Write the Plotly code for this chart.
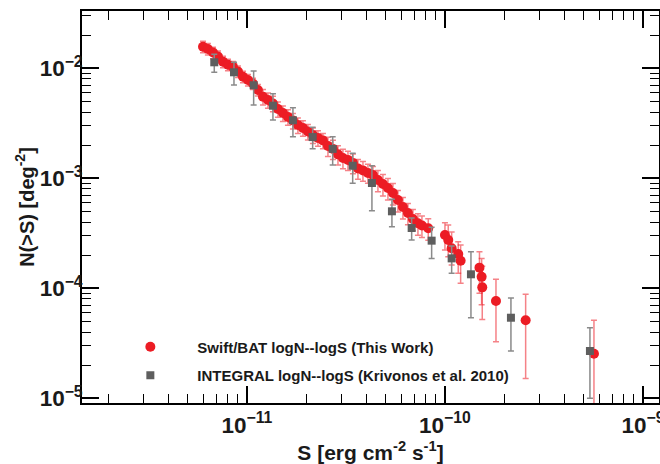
import plotly.graph_objects as go

# Swift/BAT logN-logS
bat_S = [6.00e-12, 6.35e-12, 6.74e-12, 7.14e-12, 7.57e-12, 8.02e-12, 8.50e-12, 9.01e-12, 9.55e-12,
         1.012e-11, 1.072e-11, 1.136e-11, 1.205e-11, 1.277e-11, 1.353e-11, 1.434e-11, 1.520e-11,
         1.611e-11, 1.707e-11, 1.809e-11, 1.918e-11, 2.032e-11, 2.154e-11, 2.284e-11, 2.420e-11,
         2.565e-11, 2.719e-11, 2.882e-11, 3.054e-11, 3.237e-11, 3.431e-11, 3.636e-11, 3.854e-11,
         4.084e-11, 4.329e-11, 4.587e-11, 4.862e-11, 5.153e-11, 5.462e-11, 5.788e-11, 6.135e-11,
         6.502e-11, 6.892e-11, 7.304e-11, 7.652e-11, 8.236e-11, 1.000e-10, 1.039e-10, 1.081e-10,
         1.167e-10, 1.200e-10, 1.494e-10, 1.532e-10, 1.543e-10, 1.810e-10, 2.556e-10, 5.656e-10]
bat_N = [1.57e-2, 1.50e-2, 1.39e-2, 1.28e-2, 1.15e-2, 1.08e-2, 1.03e-2, 9.35e-3, 8.39e-3,
         7.83e-3, 7.27e-3, 6.35e-3, 5.52e-3, 5.15e-3, 4.79e-3, 4.27e-3, 3.92e-3,
         3.61e-3, 3.35e-3, 3.05e-3, 2.87e-3, 2.66e-3, 2.47e-3, 2.33e-3, 2.21e-3,
         1.97e-3, 1.85e-3, 1.65e-3, 1.53e-3, 1.47e-3, 1.38e-3, 1.23e-3, 1.18e-3,
         1.12e-3, 1.07e-3, 9.65e-4, 8.87e-4, 8.16e-4, 7.35e-4, 6.35e-4, 5.48e-4,
         4.84e-4, 4.27e-4, 3.90e-4, 3.72e-4, 3.51e-4, 3.05e-4, 2.75e-4, 2.31e-4,
         2.05e-4, 1.78e-4, 1.54e-4, 1.27e-4, 1.02e-4, 7.66e-5, 5.12e-5, 2.54e-5]
bat_err_plus = [1.88e-3, 1.80e-3, 1.67e-3, 1.54e-3, 1.38e-3, 1.30e-3, 1.24e-3, 1.12e-3, 1.01e-3,
                9.4e-4, 8.7e-4, 7.6e-4, 8.8e-4, 8.2e-4, 7.7e-4, 6.8e-4, 6.3e-4,
                5.8e-4, 5.4e-4, 4.9e-4, 4.6e-4, 4.3e-4, 4.0e-4, 3.7e-4, 3.5e-4,
                3.9e-4, 3.7e-4, 3.3e-4, 3.1e-4, 2.9e-4, 2.8e-4, 2.5e-4, 2.4e-4,
                2.2e-4, 2.1e-4, 2.12e-4, 1.95e-4, 1.80e-4, 1.62e-4, 1.40e-4, 1.21e-4,
                1.06e-4, 9.4e-5, 8.6e-5, 8.2e-5, 7.7e-5, 9.0e-5, 1.01e-4, 9.4e-5,
                6.0e-5, 6.9e-5, 6.1e-5, 6.0e-5, 5.7e-5, 4.4e-5, 3.7e-5, 2.58e-5]
bat_err_minus = [1.88e-3, 1.80e-3, 1.67e-3, 1.54e-3, 1.38e-3, 1.30e-3, 1.24e-3, 1.12e-3, 1.01e-3,
                 9.4e-4, 8.7e-4, 7.6e-4, 8.8e-4, 8.2e-4, 7.7e-4, 6.8e-4, 6.3e-4,
                 5.8e-4, 5.4e-4, 4.9e-4, 4.6e-4, 4.3e-4, 4.0e-4, 3.7e-4, 3.5e-4,
                 3.9e-4, 3.7e-4, 3.3e-4, 3.1e-4, 2.9e-4, 2.8e-4, 2.5e-4, 2.4e-4,
                 2.2e-4, 2.1e-4, 2.12e-4, 1.95e-4, 1.80e-4, 1.62e-4, 1.40e-4, 1.21e-4,
                 1.06e-4, 9.4e-5, 8.6e-5, 8.2e-5, 7.7e-5, 8.2e-5, 8.2e-5, 6.8e-5,
                 6.8e-5, 6.7e-5, 6.4e-5, 5.6e-5, 5.0e-5, 4.4e-5, 3.61e-5, 2.5e-5]

# INTEGRAL logN-logS (Krivonos et al. 2010)
int_S = [6.84e-12, 8.60e-12, 1.081e-11, 1.353e-11, 1.707e-11, 2.147e-11, 2.710e-11, 3.42e-11,
         4.278e-11, 5.398e-11, 6.79e-11, 8.566e-11, 1.081e-10, 1.353e-10, 2.154e-10, 5.398e-10]
int_N = [1.134e-2, 9.20e-3, 7.01e-3, 4.57e-3, 3.37e-3, 2.37e-3, 1.85e-3, 1.30e-3,
         9.06e-4, 5.01e-4, 3.53e-4, 2.71e-4, 1.87e-4, 1.34e-4, 5.40e-5, 2.69e-5]
int_err_plus = [2.07e-3, 2.14e-3, 2.44e-3, 1.30e-3, 1.01e-3, 5.4e-4, 5.4e-4, 3.9e-4,
                3.94e-4, 1.43e-4, 8.3e-5, 8.7e-5, 5.5e-5, 8.1e-5, 2.76e-5, 1.69e-5]
int_err_minus = [2.14e-3, 2.15e-3, 2.37e-3, 1.18e-3, 9.8e-4, 5.1e-4, 5.3e-4, 4.0e-4,
                 3.99e-4, 1.38e-4, 7.8e-5, 8.4e-5, 5.0e-5, 8.0e-5, 2.71e-5, 1.69e-5]

labels = ["Swift/BAT logN--logS (This Work)", "INTEGRAL logN--logS (Krivonos et al. 2010)"]

FONT = "Liberation Sans"
XR = [-11.833, -8.919]
YR = [-5.043, -1.479]

fig = go.Figure()
fig.add_trace(go.Scatter(
    x=bat_S, y=bat_N, mode="markers", name=labels[0], legendgroup="a",
    marker=dict(symbol="circle", size=10, color="#ec1c24", line=dict(width=0)),
    error_y=dict(type="data", symmetric=False, array=bat_err_plus, arrayminus=bat_err_minus,
                 color="rgba(236,28,36,0.55)", thickness=1.5, width=3),
))
fig.add_trace(go.Scatter(
    x=int_S, y=int_N, mode="markers", name=labels[1], legendgroup="b",
    marker=dict(symbol="square", size=8, color="#5e5e5e", line=dict(width=0)),
    error_y=dict(type="data", symmetric=False, array=int_err_plus, arrayminus=int_err_minus,
                 color="#8a8a8a", thickness=1.5, width=3),
))
# invisible trace that carries the mirrored (top/right) tick axes
fig.add_trace(go.Scatter(x=int_S[:1], y=int_N[:1], xaxis="x2", yaxis="y2", mode="markers",
                         marker=dict(opacity=0), showlegend=False, hoverinfo="skip"))

tick_common = dict(
    type="log", ticks="inside", ticklen=17, tickwidth=1.5, tickcolor="black", dtick=1,
    exponentformat="power", showgrid=False, zeroline=False, automargin=False,
    minor=dict(ticks="inside", ticklen=9, tickwidth=1.3, tickcolor="black", dtick="D1", showgrid=False),
    tickfont=dict(family=FONT, size=18, color="#1a1a1a", weight="bold"),
)

fig.update_layout(
    width=660, height=464,
    margin=dict(l=82, r=1, t=11, b=61, autoexpand=False),
    paper_bgcolor="white", plot_bgcolor="white",
    xaxis=dict(tick_common, range=XR, showline=True, linecolor="black", linewidth=1.5, mirror=True,
               ticklabelstandoff=2, ticklabeloverflow="allow",
               title=dict(text="S [erg cm<sup>-2</sup> s<sup>-1</sup>]", standoff=6,
                          font=dict(family=FONT, size=21, color="#1a1a1a", weight="bold"))),
    yaxis=dict(tick_common, range=YR, showline=True, linecolor="black", linewidth=1.5, mirror=True,
               ticklabelstandoff=-6,
               title=dict(text="N(>S) [deg<sup>-2</sup>]", standoff=0,
                          font=dict(family=FONT, size=20, color="#1a1a1a", weight="bold"))),
    xaxis2=dict(tick_common, range=XR, overlaying="x", side="top", anchor="y",
                showticklabels=False, showline=False),
    yaxis2=dict(tick_common, range=YR, overlaying="y", side="right", anchor="x",
                showticklabels=False, showline=False),
    showlegend=True,
    legend=dict(x=0.037, y=0.185, xanchor="left", yanchor="top", bgcolor="rgba(0,0,0,0)",
                itemwidth=84, tracegroupgap=6,
                font=dict(family=FONT, size=15, color="#1a1a1a", weight="bold")),
)

fig.write_html("out.html")
